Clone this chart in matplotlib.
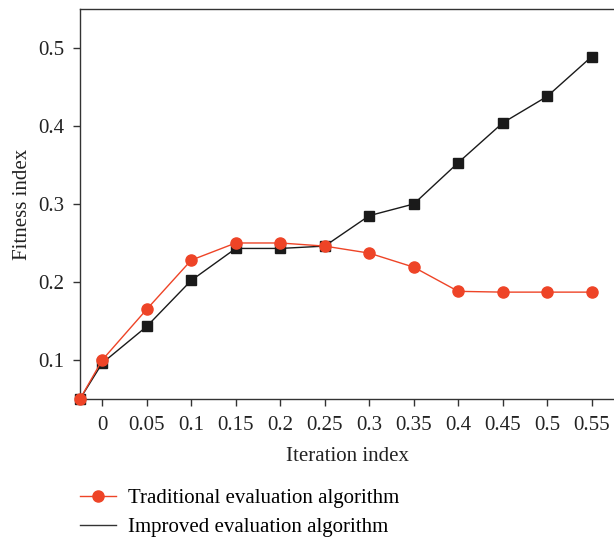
import matplotlib
matplotlib.use("Agg")
import matplotlib.pyplot as plt
from matplotlib.lines import Line2D

x_vals = [-0.025, 0, 0.05, 0.1, 0.15, 0.2, 0.25, 0.3, 0.35, 0.4, 0.45, 0.5, 0.55]
traditional = [0.05, 0.100, 0.165, 0.228, 0.250, 0.250, 0.246, 0.237, 0.219, 0.188, 0.187, 0.187, 0.187]
improved = [0.05, 0.096, 0.143, 0.202, 0.243, 0.243, 0.246, 0.285, 0.300, 0.353, 0.404, 0.438, 0.489]
x_ticks = [0, 0.05, 0.1, 0.15, 0.2, 0.25, 0.3, 0.35, 0.4, 0.45, 0.5, 0.55]
x_labels = ["0", "0.05", "0.1", "0.15", "0.2", "0.25", "0.3", "0.35", "0.4", "0.45", "0.5", "0.55"]
y_ticks = [0.1, 0.2, 0.3, 0.4, 0.5]

red = "#ee4427"
dark = "#1a1a1a"

plt.rcParams["font.family"] = ["Liberation Serif", "DejaVu Serif"]
plt.rcParams["font.size"] = 15

fig = plt.figure(figsize=(6.14, 5.41), dpi=100)
ax = fig.add_axes([0.1303, 0.2625, 0.8697, 0.7209])

ax.plot(x_vals, improved, color=dark, lw=1.0, marker="s", markersize=6.5, zorder=2, clip_on=False)
ax.plot(x_vals, traditional, color=red, lw=1.0, marker="o", markersize=8, zorder=3, clip_on=False)

ax.set_xlim(-0.025, 0.575)
ax.set_ylim(0.05, 0.55)
ax.set_xticks(x_ticks)
ax.set_xticklabels(x_labels)
ax.set_yticks(y_ticks)
ax.set_yticklabels(["0.1", "0.2", "0.3", "0.4", "0.5"])
ax.spines["right"].set_visible(False)
for s in ["left", "top", "bottom"]:
    ax.spines[s].set_linewidth(1.0)
    ax.spines[s].set_color("#333333")
ax.tick_params(direction="out", length=5, width=1.0, colors="#333333", labelcolor="#222222", labelsize=15)
ax.tick_params(axis="x", pad=7)
ax.tick_params(axis="y", pad=6)
ax.set_xlabel("Iteration index", labelpad=9, color="#222222")
ax.set_ylabel("Fitness index", labelpad=5, color="#222222")

handles = [
    Line2D([], [], color=red, lw=1.0, marker="o", markersize=8),
    Line2D([], [], color="#333333", lw=1.0),
]
fig.legend(handles, ["Traditional evaluation algorithm", "Improved evaluation algorithm"],
           loc="upper left", bbox_to_anchor=(0.107, 0.124), frameon=False,
           handlelength=1.7, handletextpad=0.6, labelspacing=0.45, fontsize=15,
           borderpad=0.2)

fig.savefig("out.png", dpi=100)
